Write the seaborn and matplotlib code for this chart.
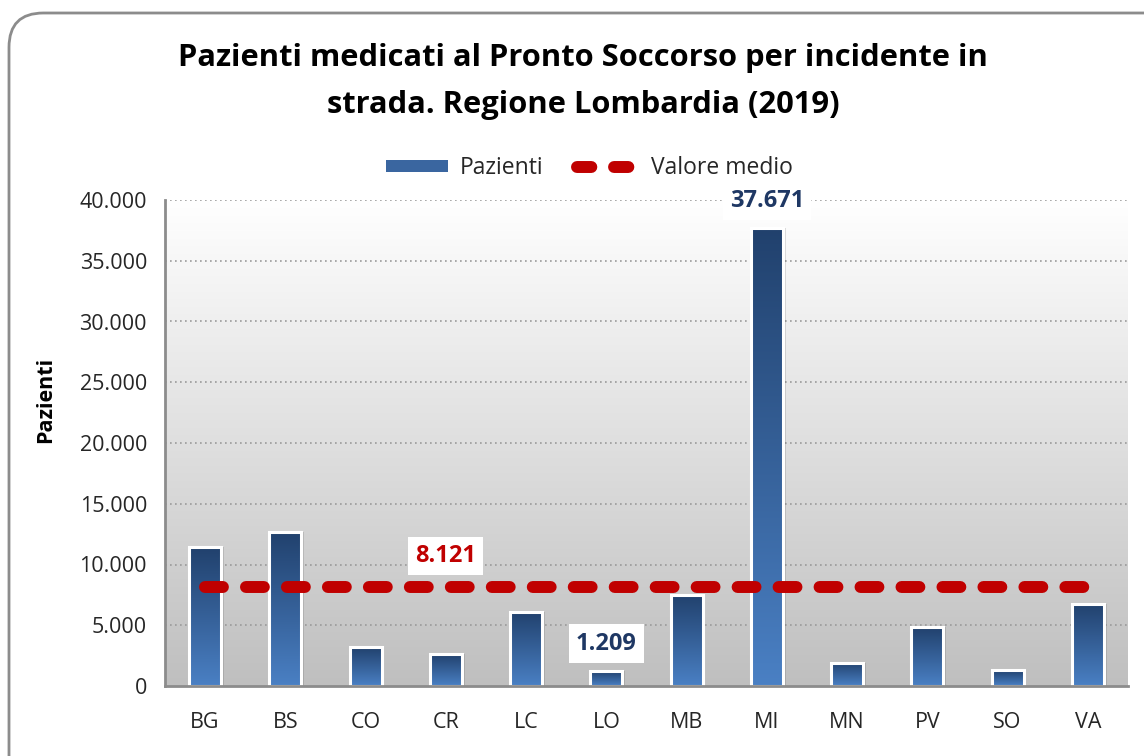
import numpy as np
import pandas as pd
import matplotlib
matplotlib.use("Agg")
import matplotlib.pyplot as plt
from matplotlib.patches import FancyBboxPatch, Patch
from matplotlib.lines import Line2D
from matplotlib.colors import LinearSegmentedColormap
import seaborn as sns

# Dati: pazienti per provincia
province = ["BG", "BS", "CO", "CR", "LC", "LO", "MB", "MI", "MN", "PV", "SO", "VA"]
pazienti = [11400, 12700, 3200, 2600, 6100, 1209, 7500, 37671, 1900, 4850, 1300, 6750]
valore_medio = 8121
etichette_barre = {"LO": 1209, "MI": 37671}
y_ticks = [0, 5000, 10000, 15000, 20000, 25000, 30000, 35000, 40000]

sns.set_theme(style="white")
plt.rcParams["font.family"] = ["Open Sans", "DejaVu Sans"]

df = pd.DataFrame({"Provincia": province, "Pazienti": pazienti})

fig = plt.figure(figsize=(11.44, 7.56), dpi=100)
fig.patch.set_facecolor("white")

# cornice arrotondata del grafico
frame = FancyBboxPatch((9 / 1144, -0.05), 1.2, 1 - 13 / 756 + 0.05,
                       boxstyle="round,pad=0,rounding_size=0.03",
                       transform=fig.transFigure, facecolor="none",
                       edgecolor="#8c8c8c", linewidth=2, mutation_aspect=1144 / 756)
fig.patches.append(frame)

ax = fig.add_axes([165 / 1144, 1 - 686 / 756, (1128 - 165) / 1144, (686 - 200) / 756])

# sfondo sfumato dell'area del grafico (bianco in alto, grigio in basso)
bg = np.linspace(0, 1, 256).reshape(-1, 1)
bg_cmap = LinearSegmentedColormap.from_list("bg", ["#ffffff", "#bfbfbf"])
ax.imshow(bg, cmap=bg_cmap, aspect="auto", extent=[0, 1, 0, 1],
          transform=ax.transAxes, zorder=0)

# griglia punteggiata
for t in y_ticks[1:]:
    ax.axhline(t, color="#9a9a9a", linestyle=(0, (1, 2)), linewidth=1.2, zorder=1)

sns.barplot(data=df, x="Provincia", y="Pazienti", width=0.4, color="#3a66a0",
            edgecolor="white", linewidth=2.2, ax=ax, zorder=3)

# riempimento a gradiente per ogni barra (scuro in alto, chiaro in basso)
bar_cmap = LinearSegmentedColormap.from_list("bar", ["#21416d", "#4a80c4"])
grad = np.linspace(0, 1, 256).reshape(-1, 1)
for p in list(ax.patches):
    x0, y0 = p.get_x(), p.get_y()
    w, h = p.get_width(), p.get_height()
    # leggera ombra
    ax.bar(x0 + w / 2 + 0.02, h, width=w + 0.03, bottom=y0, color="#000000",
           alpha=0.12, zorder=2, align="center", linewidth=0)
    im = ax.imshow(grad, cmap=bar_cmap, aspect="auto",
                   extent=[x0, x0 + w, y0, y0 + h], zorder=3.5)
    im.set_clip_path(p)
    p.set_facecolor("none")
    p.set_zorder(4)

# linea del valore medio
ax.plot([0, len(province) - 0.9], [valore_medio, valore_medio], color="#c00000",
        linewidth=8.6, dashes=(1.5, 1.93), dash_capstyle="round", zorder=5)

label_style = dict(textcoords="offset points", ha="center", va="center",
                   fontsize=17, fontweight="bold", zorder=6,
                   bbox=dict(boxstyle="square,pad=0.3", facecolor="white", edgecolor="none"))

ax.annotate(f"{valore_medio:,}".replace(",", "."), xy=(3, valore_medio),
            xytext=(0, 22.5), color="#c00000", **label_style)

for prov, val in etichette_barre.items():
    i = province.index(prov)
    ax.annotate(f"{val:,}".replace(",", "."), xy=(i, val),
                xytext=(0, 20), color="#1f3864", **label_style)

ax.set_xlim(-0.5, len(province) - 0.5)
ax.set_ylim(0, 40000)
ax.set_yticks(y_ticks)
ax.set_yticklabels([f"{t:,}".replace(",", ".") for t in y_ticks])
ax.tick_params(axis="both", labelsize=15.5, colors="#262626", length=0)
ax.tick_params(axis="y", pad=13)
ax.tick_params(axis="x", pad=19)
ax.set_xlabel("")
ax.set_ylabel("Pazienti", fontsize=15.5, fontweight="bold", color="black")
ax.yaxis.set_label_coords(-0.1132, 0.588)

for side in ["top", "right"]:
    ax.spines[side].set_visible(False)
for side in ["left", "bottom"]:
    ax.spines[side].set_color("#8c8c8c")
    ax.spines[side].set_linewidth(2)
    ax.spines[side].set_zorder(7)

fig.text(583 / 1144, 1 - 81.5 / 756,
         "Pazienti medicati al Pronto Soccorso per incidente in\nstrada. Regione Lombardia (2019)",
         ha="center", va="center", fontsize=22.2, fontweight="bold", color="black",
         linespacing=1.7)

handles = [Patch(facecolor="#3a66a0", edgecolor="none"),
           Line2D([0], [0], color="#c00000", linewidth=8.6, dashes=(1.2, 1.9),
                  dash_capstyle="round")]
ax.legend(handles, ["Pazienti", "Valore medio"], loc="center",
          bbox_to_anchor=(0.4408, 1.066), ncol=2, frameon=False, fontsize=16.5,
          handlelength=2.7, handleheight=0.45, columnspacing=1.45, handletextpad=0.52)

fig.savefig("out.png", dpi=100, facecolor="white")
